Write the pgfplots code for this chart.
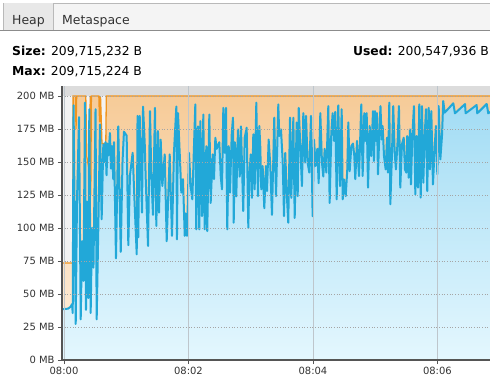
\documentclass[border=0pt]{standalone}
\usepackage{fontspec}
\setmainfont{DejaVu Sans}
\usepackage{pgfplots}
\usepackage{pgfplotstable}
\pgfplotsset{compat=1.18}
\definecolor{bandgray}{RGB}{220,220,220}
\definecolor{bggray}{RGB}{243,243,243}
\definecolor{orline}{RGB}{240,149,31}
\definecolor{ortop}{RGB}{246,203,152}
\definecolor{orbot}{RGB}{255,240,224}
\definecolor{blline}{RGB}{34,168,216}
\definecolor{bltop}{RGB}{162,220,244}
\definecolor{blbot}{RGB}{228,247,254}
\definecolor{txt}{RGB}{50,50,50}
\definecolor{axgray}{RGB}{85,85,85}
\definecolor{tabbg}{RGB}{244,244,244}
\definecolor{tabsel}{RGB}{232,232,232}
\definecolor{tabline}{RGB}{185,185,185}
\definecolor{tabdark}{RGB}{140,140,140}
\definecolor{vgrid}{RGB}{190,198,204}
\definecolor{hgrid}{RGB}{165,165,165}

% time in seconds after 08:00, heap in MB
\pgfplotstableread{
x y
-1.93 73.5
8.6 73.5
8.8 200
11 200
11.6 175
12.2 200
21 200
22 154
23.5 147
24.5 147
25.3 200
25.8 125
26.4 200
33.6 200
34.3 180
35.2 200
36.6 164
40.3 164
40.8 200
410.7 200
}\sizedata

\pgfplotstableread{
x y
-1.93 38.5
3.9 38.9
6.5 40.4
7.7 42.4
8.4 35.6
9.2 193
11.3 27.3
12.5 120
14.5 184
16.1 30.8
17.4 90
18.8 60
20.2 195
21.2 38
22.2 120
23.4 47
24.4 190
25.7 35.6
27 100
28.4 70
30.4 190
31.5 30.8
33.3 110
34.7 178.5
36.3 106.6
37.9 163.4
39 150
40 165
41 140
41.9 164
42.9 155
44.3 172
45.3 145
46.3 162
47.5 137
48.2 165
50.1 77
52.3 177
54.7 82
56.4 150
57.8 173
60.4 170
62 87
63.6 140
66.2 157
68 120
70.1 80
70.9 185
71.6 93
73 185
75.2 111.6
76.2 192
77.8 164.6
78.8 137
81 86.4
82.9 188.6
84.2 139
85.8 110
87.7 191
89 101.5
90.6 173.5
91.6 111.6
93.2 167
94.8 131.8
97.1 155.8
99 90
101.9 155.8
104.1 94
106 157
108.3 192
108.9 91.4
109.9 187
111.8 152
113.1 126.8
114.7 137
116.4 94
117.3 111
118.6 94
120.5 157
122.1 131.8
123.7 121.7
126.6 193.7
127.5 99
129.2 177
130.4 99
131.4 181
133 109
134.3 186
135.6 99
137.2 162
138.1 97.7
140.1 186
141.4 119
143.3 155.8
144.6 137
145.9 168.4
147.2 160
149.7 165
151.1 139.4
152.3 129.3
153.6 191
154.9 157
156.2 191
157.4 99
158.8 162
160 126.8
161.7 171
162.9 183.6
163.6 104
164.8 165
166.1 124
167.7 174.7
169.4 139
170.6 177
172.8 112.9
174.2 168.4
176.1 176
177.7 100
178.6 137
180 155.8
181.2 122.9
182.5 171
183.8 129.3
185.4 195
187 124.2
188.3 177.3
189.2 162
190.2 129.3
191.5 147
193.1 115
194.7 147
195.7 128
197.3 167
198.9 147
200.5 110
202.7 183.6
204.4 124.2
206.6 193.7
207.5 169.7
209.2 174.7
210.8 151
212.1 109
213.3 157
214.7 126.8
216.2 104
217.9 183.6
219.1 122.9
221.1 183.6
222.4 107.6
224.3 180
225.3 124.2
226.3 191
227.8 162
229.4 131.8
230.7 187
232.3 149.5
233.3 185
234.9 149.5
236.5 142
238.1 185
239.7 109
241 167
242.6 147
244.2 160
245.5 134
247.1 187
248.7 149.5
250 139
251.3 160
252.9 142
254.8 192.4
256.1 119
257.7 172
259 187
260.3 166
261.5 188
262.9 121.7
264.4 193
266.1 131.8
267.7 190
268.7 121.7
269.9 136.9
271.6 124.2
273.1 144.4
274.1 180
275.4 143
277 162
278.6 164
279.9 154.5
280.8 137
282.5 166
284.4 139.4
286.6 193.7
287.9 139.4
289.5 187
290.5 166
291.8 187
293.1 130.6
294.7 177.3
296.2 154.5
297.9 188.6
298.8 150.8
299.8 188.6
300.8 166
301.7 187
302.7 140.7
303.9 169.7
305.1 192.4
306.2 167
307.2 177.3
308.5 154.5
310.1 144.4
311.4 168.4
312.3 142
313.6 195
314.6 118
316.2 157
317.4 192.4
318.8 157
320 144.4
321.7 167
322.9 192.4
324.2 130.6
325.8 163.4
327.5 168.4
328.7 144.4
330 142
330.9 169.7
332.3 138.1
333.5 174.7
334.5 133
335.8 169.7
337.4 192.4
338.7 125.5
340 169.7
341.3 130.6
342.5 193.7
343.9 123
345.1 192.4
346.4 134.3
347.7 169.7
349 190
350.2 128
351.6 191
352.8 144.4
354.1 188.6
355.7 133
357.4 162
358.6 177.3
359.9 140.7
361.2 192.4
362.8 152
364.4 169.7
365.6 196.2
367 187.4
375.3 194.5
376.9 186.9
386.6 193.9
387.2 186.9
397.8 193.2
398.4 186.9
407.5 194
409 186.9
410.7 188
}\useddata

\begin{document}
\begin{tikzpicture}[x=1bp,y=1bp]
\path[use as bounding box] (-62,-31) rectangle (428,360);
% tab bar
\fill[tabbg] (-59,330) rectangle (428,357);
\draw[tabline, line width=0.8bp] (-59,357) -- (428,357);
\fill[tabsel] (-59,330) rectangle (-9,357);
\draw[tabline, line width=0.8bp] (-59,330) -- (-59,357);
\draw[tabline, line width=0.8bp] (-9,330) -- (-9,357);
\draw[tabdark, line width=0.9bp] (-62,330) -- (428,330);
\node[anchor=base, inner sep=0, text=txt, font=\fontsize{12.5}{14}\selectfont] at (-33.5,336) {Heap};
\node[anchor=base west, inner sep=0, text=txt, font=\fontsize{12.5}{14}\selectfont] at (0,336) {Metaspace};
% info
\node[anchor=base west, inner sep=0, text=black, font=\fontsize{12.4}{14}\selectfont] at (-50,305) {\textbf{Size:} 209,715,232 B};
\node[anchor=base west, inner sep=0, text=black, font=\fontsize{12.4}{14}\selectfont] at (-50,285) {\textbf{Max:} 209,715,224 B};
\node[anchor=base east, inner sep=0, text=black, font=\fontsize{12.4}{14}\selectfont] at (427,305) {\textbf{Used:} 200,547,936 B};
\begin{axis}[
  at={(0,0)}, anchor=south west,
  scale only axis, width=428bp, height=274bp,
  xmin=-1.93, xmax=410.7, ymin=0, ymax=207.6,
  axis on top,
  axis background/.style={fill=bandgray},
  axis x line*=bottom, axis y line*=left,
  axis line style={axgray, line width=1.1bp, -},
  xtick={0,120,240,360}, xticklabels={08:00,08:02,08:04,08:06},
  ytick={0,25,50,75,100,125,150,175,200},
  yticklabels={0 MB,25 MB,50 MB,75 MB,100 MB,125 MB,150 MB,175 MB,200 MB},
  tick align=outside, major tick length=4bp,
  major tick style={axgray, line width=0.9bp},
  xmajorgrids, ymajorgrids,
  major x grid style={vgrid, line width=0.8bp},
  major y grid style={hgrid, line width=0.7bp, dotted},
  ticklabel style={font=\fontsize{10}{12}\selectfont, text=txt},
]
\addplot[draw=none, fill=bggray] coordinates {(-1.93,200) (410.7,200)} \closedcycle;
\addplot[draw=none, top color=ortop, bottom color=orbot] table {\sizedata} \closedcycle;
\addplot[draw=none, top color=bltop, bottom color=blbot] table {\useddata} \closedcycle;
\addplot[orline, line width=1.3bp, mark=none] table {\sizedata};
\addplot[blline, line width=2bp, line join=round, mark=none] table {\useddata};
\end{axis}
\end{tikzpicture}
\end{document}
